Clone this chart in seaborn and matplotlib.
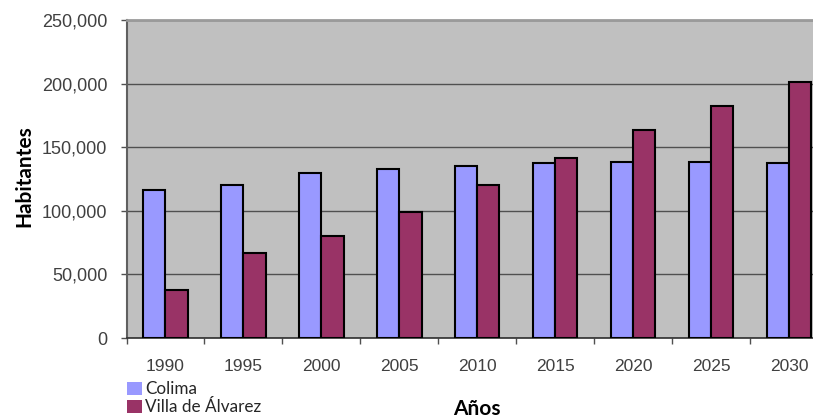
import matplotlib
matplotlib.use("Agg")
import matplotlib.pyplot as plt
from matplotlib.patches import Patch
from matplotlib.ticker import FuncFormatter, MultipleLocator
import numpy as np
import pandas as pd
import seaborn as sns

# Population by year for the two municipalities
years = ["1990", "1995", "2000", "2005", "2010", "2015", "2020", "2025", "2030"]
colima = [116500, 120400, 129600, 132800, 135400, 137200, 138000, 138000, 137200]
villa_alvarez = [37600, 66500, 80400, 99400, 120400, 141500, 163200, 182700, 201100]
series_names = ["Colima", "Villa de Álvarez"]
series_colors = ["#9999FF", "#993366"]
y_ticks = [0, 50000, 100000, 150000, 200000, 250000]

df = pd.DataFrame({
    "Año": years * 2,
    "Habitantes": colima + villa_alvarez,
    "Municipio": [series_names[0]] * len(years) + [series_names[1]] * len(years),
})

sns.set_style("white")
plt.rcParams["font.family"] = ["Liberation Sans", "DejaVu Sans"]

W, H = 813, 419
fig = plt.figure(figsize=(W / 100, H / 100), dpi=100)
# plot area runs past the right edge of the canvas
left, bottom, right, top = 126.5, 338, 828, 20
ax = fig.add_axes([left / W, (H - bottom) / H, (right - left) / W, (bottom - top) / H])

palette = dict(zip(series_names, series_colors))
sns.barplot(data=df, x="Año", y="Habitantes", hue="Municipio", order=years,
            hue_order=series_names, palette=palette, width=0.57, gap=0,
            edgecolor="black", linewidth=1.5, saturation=1, ax=ax,
            legend=False, zorder=3)

ax.set_facecolor("#C0C0C0")
ax.set_ylim(0, 250000)
ax.set_xlim(-0.5, len(years) - 0.5)
ax.set_yticks(y_ticks)
ax.yaxis.set_major_formatter(FuncFormatter(lambda v, p: f"{int(v):,}"))
ax.grid(axis="y", color="#505050", linewidth=1.0, zorder=1)
ax.grid(axis="x", visible=False)
ax.set_axisbelow(True)

# tick marks sit between categories, labels at the category centres
ax.xaxis.set_minor_locator(MultipleLocator(1, offset=0.5))
ax.tick_params(axis="x", which="major", length=0, pad=15,
               labelsize=12.5, labelcolor="#404040")
ax.tick_params(axis="x", which="minor", length=4.3, width=1.0,
               color="#505050", direction="out", bottom=True)
ax.tick_params(axis="y", which="major", length=4.3, width=1.0,
               color="#505050", direction="out", left=True, pad=9.5,
               labelsize=13, labelcolor="#404040")

for side in ("left", "bottom", "top", "right"):
    ax.spines[side].set_visible(True)
ax.spines["left"].set_color("#606060")
ax.spines["left"].set_linewidth(1.5)
ax.spines["bottom"].set_color("#303030")
ax.spines["bottom"].set_linewidth(1.2)
ax.spines["top"].set_color("#9a9a9a")
ax.spines["top"].set_linewidth(2.0)
ax.spines["right"].set_visible(False)

ax.set_ylabel("Habitantes", fontsize=15, fontweight="bold",
              family=["Lato", "DejaVu Sans"], color="black")
ax.yaxis.label.set_va("center")
ax.yaxis.set_label_coords((24 - left) / (right - left), (bottom - 176) / (bottom - top))
ax.set_xlabel("Años", fontsize=15, fontweight="bold",
              family=["Lato", "DejaVu Sans"], color="black")
ax.xaxis.label.set_va("center")
ax.xaxis.set_label_coords(0.5, (bottom - 409) / (bottom - top))

handles = [Patch(facecolor=c, edgecolor="none") for c in series_colors]
fig.legend(handles, series_names, loc="upper left",
           bbox_to_anchor=(127 / W, 1 - 381 / H), bbox_transform=fig.transFigure,
           frameon=False, borderpad=0, borderaxespad=0, handlelength=0.85,
           handleheight=0.8, handletextpad=0.2, labelspacing=0.12,
           prop={"family": ["Lato", "DejaVu Sans"], "size": 12.3})

fig.savefig("out.png", dpi=100)
